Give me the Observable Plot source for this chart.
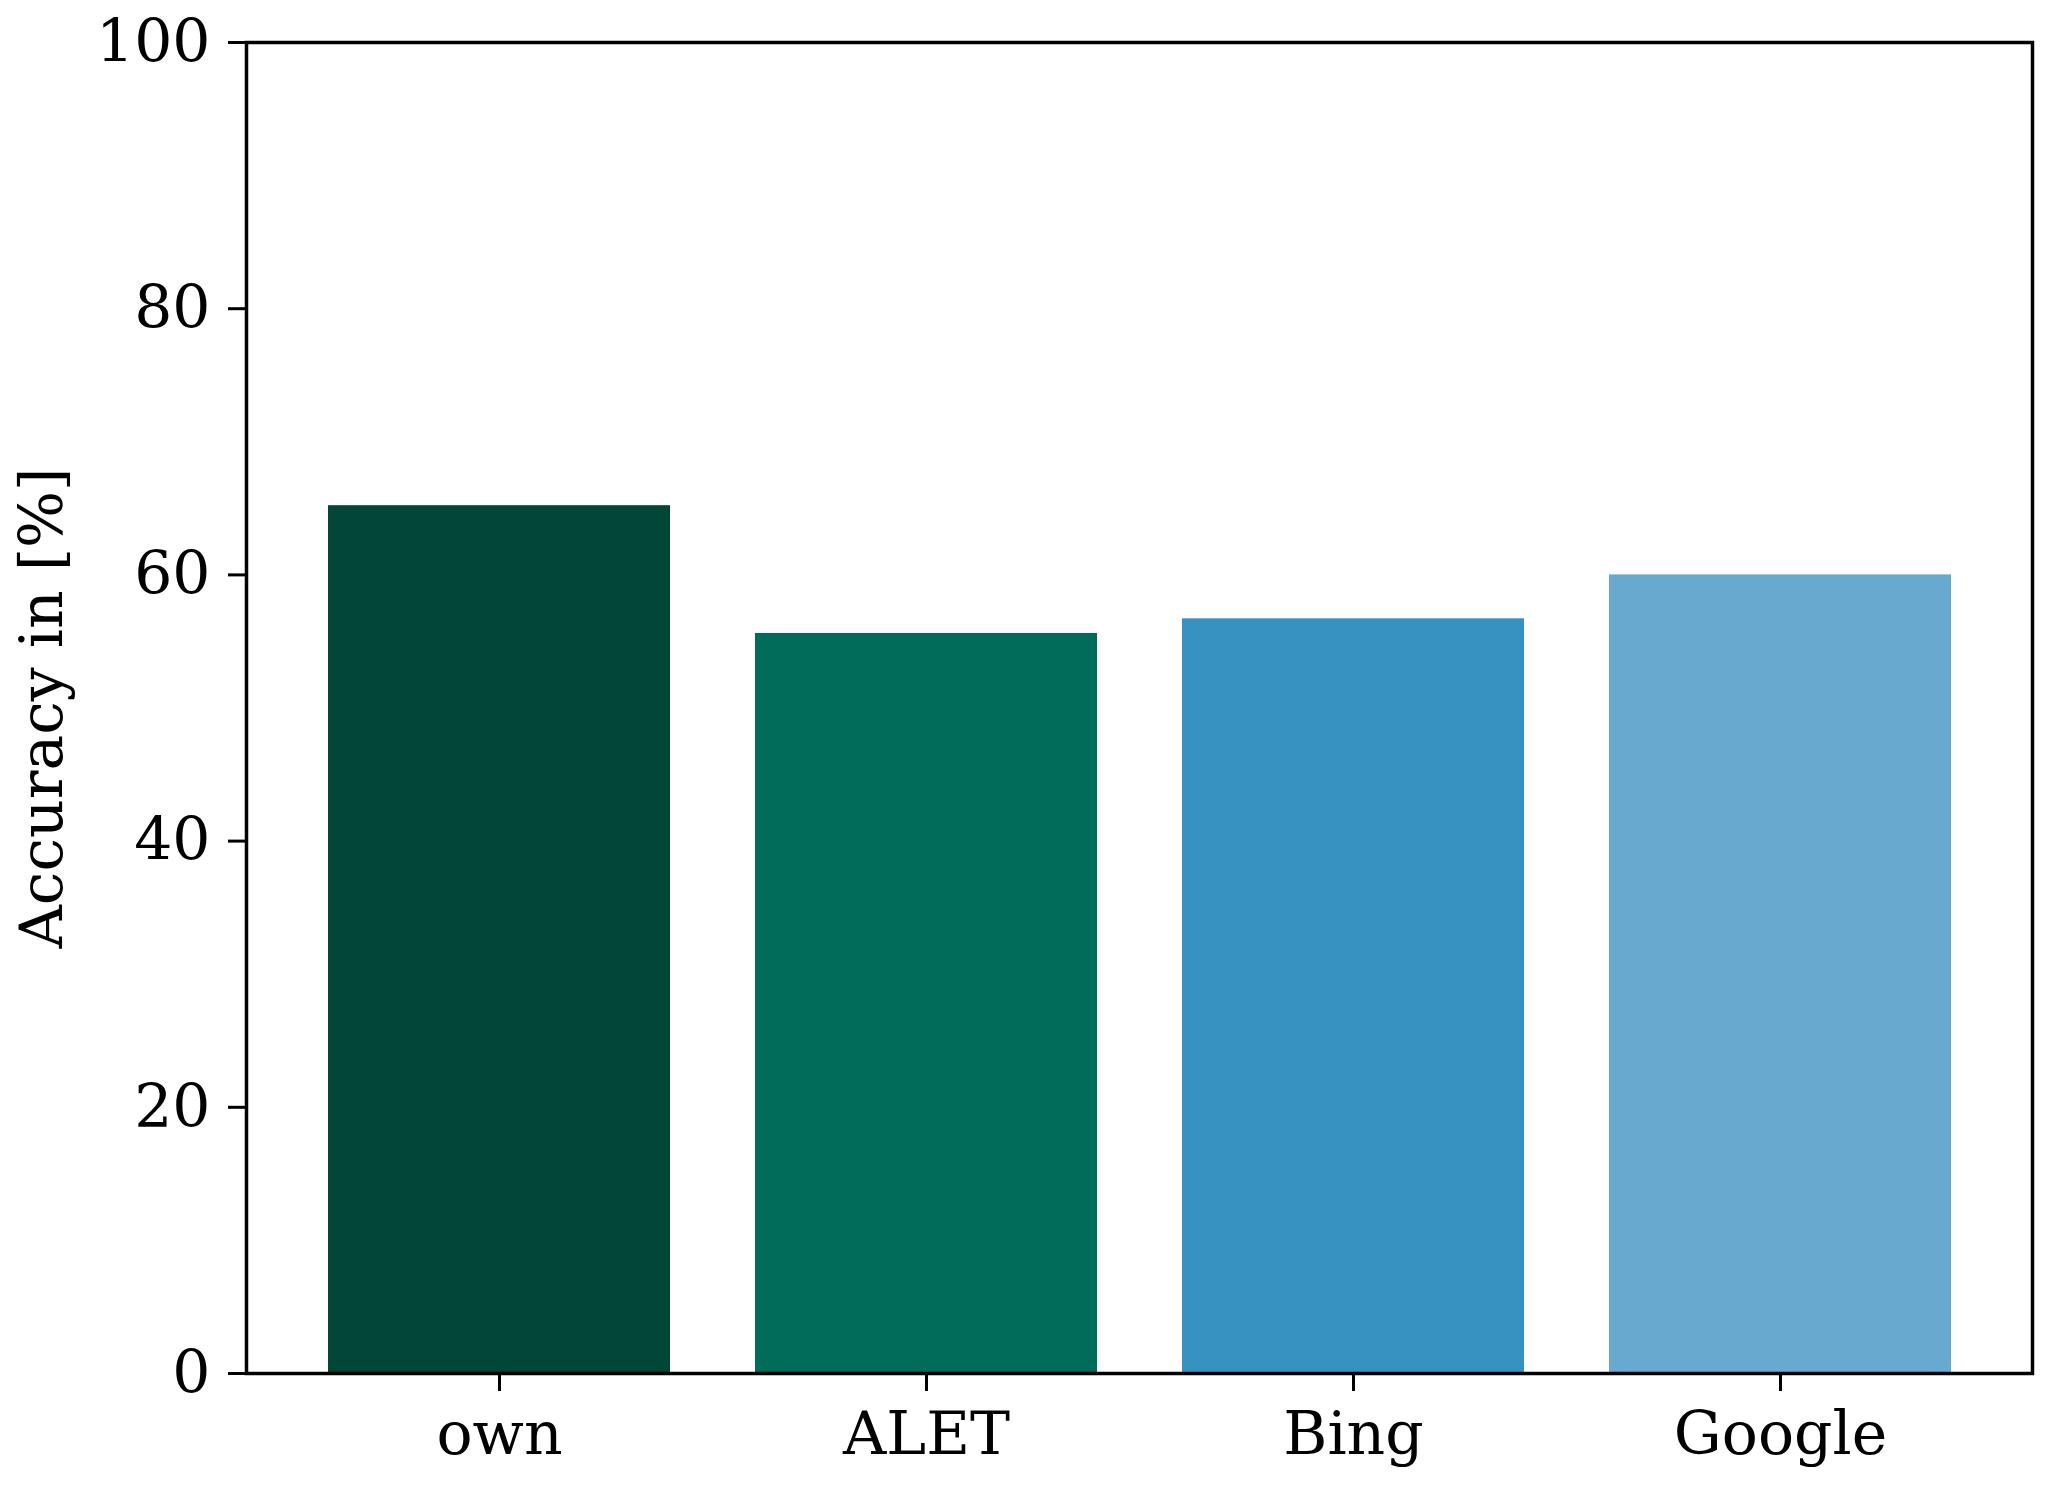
<!DOCTYPE html>
<html>
<head>
<meta charset="utf-8">
<script src="https://cdn.jsdelivr.net/npm/d3@7"></script>
<script src="https://cdn.jsdelivr.net/npm/@observablehq/plot@0.6"></script>
<style>
  html, body { margin: 0; padding: 0; background: #fff; }
</style>
</head>
<body>
<div id="chart"></div>
<script>
const categories = ["own", "ALET", "Bing", "Google"];
const accuracy = [65.2, 55.6, 56.7, 60.0];
const colors = ["#014636", "#016c59", "#3690c0", "#67a9cf"];
const yTicks = [0, 20, 40, 60, 80, 100];
const yLabel = "Accuracy in [%]";

const data = categories.map((c, i) => ({category: c, value: accuracy[i], color: colors[i]}));

const font = "DejaVu Serif";

const chart = Plot.plot({
  width: 2065,
  height: 1493,
  marginLeft: 246,
  marginRight: 33,
  marginTop: 42,
  marginBottom: 120,
  style: {fontFamily: font, background: "#fff", color: "#000"},
  x: {domain: categories, paddingInner: 0.2, paddingOuter: 0.19, label: null},
  y: {domain: [0, 100], label: null},
  marks: [
    Plot.barY(data, {x: "category", y: "value", fill: "color"}),
    Plot.frame({stroke: "#000", strokeWidth: 3.5}),
    Plot.axisY({ticks: yTicks, tickSize: 18, tickPadding: 18, fontSize: 60, fontFamily: font, strokeWidth: 3, label: null}),
    Plot.axisX({tickSize: 18, tickPadding: 20, fontSize: 60, fontFamily: font, strokeWidth: 3, label: null}),
    Plot.text([yLabel], {frameAnchor: "left", dx: -204, rotate: -90, text: d => d, fontSize: 60, fontFamily: font, textAnchor: "middle", lineAnchor: "middle", fill: "#000"})
  ]
});
document.getElementById("chart").appendChild(chart);
</script>
</body>
</html>
